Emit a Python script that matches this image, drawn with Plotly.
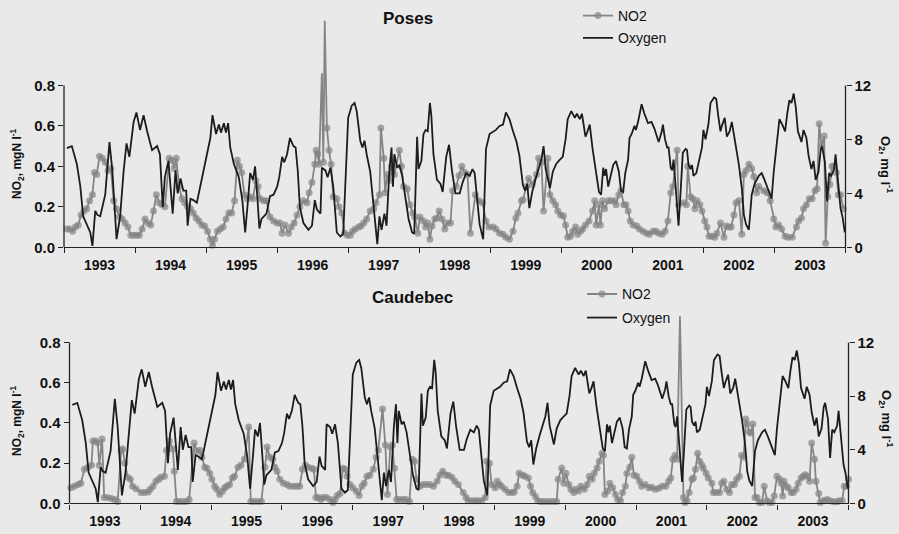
import plotly.graph_objects as go

# ---------------- data ----------------
years = [1993, 1994, 1995, 1996, 1997, 1998, 1999, 2000, 2001, 2002, 2003]

# dissolved oxygen (mg/l), same record shown in both panels
o2_dates = [
    1993.04, 1993.11, 1993.18, 1993.23, 1993.27, 1993.32, 1993.37, 1993.40, 1993.44, 1993.47,
    1993.51, 1993.58, 1993.64, 1993.68, 1993.74, 1993.79, 1993.84, 1993.88, 1993.92, 1993.98,
    1994.02, 1994.07, 1994.12, 1994.17, 1994.24, 1994.31, 1994.35, 1994.39, 1994.42, 1994.47,
    1994.50, 1994.53, 1994.57, 1994.60, 1994.64, 1994.68, 1994.72, 1994.74, 1994.78, 1994.82,
    1994.87, 1994.94, 1995.01, 1995.06, 1995.09, 1995.14, 1995.18, 1995.21, 1995.25, 1995.28,
    1995.31, 1995.34, 1995.39, 1995.46, 1995.51, 1995.55, 1995.59, 1995.62, 1995.66, 1995.69,
    1995.72, 1995.75, 1995.78, 1995.85, 1995.90, 1995.95, 1996.00, 1996.03, 1996.07, 1996.10,
    1996.14, 1996.18, 1996.23, 1996.26, 1996.29, 1996.32, 1996.37, 1996.44, 1996.49, 1996.53,
    1996.56, 1996.61, 1996.63, 1996.68, 1996.71, 1996.75, 1996.79, 1996.84, 1996.89, 1996.93,
    1996.97, 1997.00, 1997.05, 1997.09, 1997.12, 1997.17, 1997.20, 1997.23, 1997.26, 1997.31,
    1997.34, 1997.38, 1997.41, 1997.44, 1997.47, 1997.51, 1997.54, 1997.58, 1997.61, 1997.63,
    1997.65, 1997.69, 1997.72, 1997.76, 1997.80, 1997.85, 1997.90, 1997.93, 1997.97, 1997.99,
    1998.03, 1998.06, 1998.09, 1998.12, 1998.15, 1998.17, 1998.20, 1998.25, 1998.30, 1998.33,
    1998.38, 1998.42, 1998.46, 1998.51, 1998.57, 1998.61, 1998.66, 1998.71, 1998.75, 1998.78,
    1998.80, 1998.85, 1998.90, 1998.92, 1998.94, 1998.99, 1999.04, 1999.08, 1999.13, 1999.18,
    1999.22, 1999.27, 1999.32, 1999.37, 1999.41, 1999.46, 1999.49, 1999.52, 1999.55, 1999.59,
    1999.64, 1999.68, 1999.72, 1999.75, 1999.78, 1999.81, 1999.84, 1999.88, 1999.93, 1999.98,
    2000.02, 2000.06, 2000.09, 2000.14, 2000.19, 2000.22, 2000.26, 2000.29, 2000.34, 2000.37,
    2000.40, 2000.44, 2000.48, 2000.53, 2000.56, 2000.59, 2000.61, 2000.63, 2000.66, 2000.69,
    2000.73, 2000.77, 2000.81, 2000.84, 2000.87, 2000.90, 2000.94, 2000.96, 2000.99, 2001.03,
    2001.05, 2001.08, 2001.10, 2001.13, 2001.17, 2001.22, 2001.27, 2001.31, 2001.37, 2001.41,
    2001.43, 2001.46, 2001.49, 2001.51, 2001.54, 2001.56, 2001.58, 2001.61, 2001.63, 2001.65,
    2001.68, 2001.71, 2001.75, 2001.77, 2001.79, 2001.82, 2001.84, 2001.86, 2001.90, 2001.93,
    2001.98, 2002.00, 2002.03, 2002.07, 2002.10, 2002.15, 2002.18, 2002.21, 2002.24, 2002.26,
    2002.30, 2002.33, 2002.37, 2002.40, 2002.45, 2002.50, 2002.54, 2002.57, 2002.60, 2002.64,
    2002.68, 2002.72, 2002.78, 2002.82, 2002.86, 2002.92, 2002.96, 2002.99, 2003.04, 2003.07,
    2003.11, 2003.15, 2003.18, 2003.21, 2003.24, 2003.27, 2003.30, 2003.33, 2003.38, 2003.41,
    2003.45, 2003.48, 2003.52, 2003.55, 2003.58, 2003.62, 2003.65, 2003.67, 2003.71, 2003.74,
    2003.77, 2003.80, 2003.84, 2003.86, 2003.90, 2003.93, 2003.96, 2003.99,
]
o2_values = [
    7.35, 7.5, 6.2, 4.5, 2.3, 1.7, 1.1, 0.1, 2.7, 2.4,
    2.3, 3.9, 7.8, 5.7, 0.6, 2.3, 5.7, 7.7, 6.7, 9.3,
    10.0, 8.7, 9.8, 8.6, 7.2, 7.5, 6.9, 3.0, 5.2, 6.4,
    4.5, 2.5, 5.7, 4.0, 5.1, 4.2, 4.2, 1.6, 3.6, 3.5,
    3.3, 5.0, 6.9, 8.1, 9.8, 8.4, 9.1, 8.5, 9.2, 8.5,
    9.2, 7.4, 6.2, 5.2, 3.5, 1.1, 3.5, 5.5, 5.0, 6.0,
    3.8, 1.4, 2.1, 2.5, 3.8, 3.9, 4.5, 5.2, 6.7, 6.3,
    6.9, 8.1, 7.5, 7.4, 5.7, 3.0, 1.8, 1.3, 1.6, 3.5,
    2.8, 2.5, 5.9, 5.7, 5.2, 5.9, 4.5, 1.1, 0.8, 1.0,
    5.9, 9.6, 10.5, 10.7, 10.1, 7.9, 7.4, 7.9, 6.9, 5.6,
    4.0, 1.7, 0.24, 2.3, 1.3, 2.5, 1.6, 5.7, 7.4, 4.5,
    6.9, 5.9, 6.1, 5.3, 4.0, 2.1, 1.1, 1.0, 8.2, 5.8,
    6.4, 8.4, 8.7, 8.6, 10.7, 9.8, 6.9, 5.0, 4.7, 4.1,
    6.7, 7.6, 5.7, 4.0, 4.0, 4.8, 5.5, 5.3, 5.8, 5.5,
    4.4, 1.7, 0.6, 4.6, 7.3, 8.4, 8.6, 8.7, 9.0, 9.1,
    10.0, 9.5, 8.6, 7.8, 6.8, 4.6, 4.2, 4.7, 2.9, 4.1,
    5.1, 5.8, 6.5, 7.5, 5.8, 5.1, 4.4, 5.6, 6.2, 6.5,
    6.7, 8.0, 9.5, 10.1, 9.6, 9.9, 9.5, 9.9, 8.2, 8.6,
    9.1, 7.3, 5.8, 4.1, 3.9, 5.9, 5.3, 5.8, 4.5, 5.3,
    6.1, 6.4, 5.6, 4.2, 4.1, 5.5, 6.5, 8.1, 8.4, 9.0,
    8.7, 9.3, 9.9, 10.6, 9.9, 9.2, 9.3, 8.8, 7.8, 8.5,
    9.1, 8.0, 7.4, 7.4, 5.9, 5.7, 6.5, 4.6, 3.2, 1.6,
    4.2, 7.0, 7.3, 7.2, 6.1, 5.8, 6.1, 5.3, 5.5, 6.3,
    7.4, 8.7, 8.0, 9.1, 10.7, 11.1, 11.0, 9.7, 8.6, 9.0,
    9.6, 8.2, 8.6, 9.3, 7.8, 6.1, 4.4, 2.4, 1.7, 1.3,
    3.9, 4.7, 5.3, 5.5, 5.0, 4.1, 3.6, 5.6, 7.8, 9.5,
    9.1, 8.6, 9.9, 10.9, 10.7, 11.4, 10.4, 8.6, 7.8, 8.7,
    8.1, 6.8, 5.8, 6.4, 5.0, 5.6, 7.2, 7.5, 6.3, 3.4,
    5.5, 5.3, 5.8, 6.9, 4.6, 2.9, 2.2, 1.1,
]

# NO2 at Poses (mgN/l)
poses_dates = [
    1993.04, 1993.08, 1993.12, 1993.16, 1993.20, 1993.24, 1993.28, 1993.32, 1993.36, 1993.40,
    1993.43, 1993.46, 1993.50, 1993.54, 1993.58, 1993.62, 1993.66, 1993.70, 1993.74, 1993.78,
    1993.82, 1993.86, 1993.90, 1993.94, 1993.98, 1994.02, 1994.06, 1994.10, 1994.14, 1994.18,
    1994.22, 1994.26, 1994.30, 1994.34, 1994.38, 1994.42, 1994.48, 1994.52, 1994.55, 1994.58,
    1994.62, 1994.66, 1994.70, 1994.74, 1994.78, 1994.82, 1994.86, 1994.90, 1994.94, 1994.98,
    1995.02, 1995.06, 1995.09, 1995.12, 1995.16, 1995.20, 1995.24, 1995.28, 1995.32, 1995.36,
    1995.40, 1995.44, 1995.47, 1995.50, 1995.54, 1995.58, 1995.62, 1995.66, 1995.70, 1995.73,
    1995.76, 1995.81, 1995.85, 1995.90, 1995.95, 1996.00, 1996.04, 1996.07, 1996.11, 1996.16,
    1996.20, 1996.24, 1996.28, 1996.32, 1996.37, 1996.42, 1996.45, 1996.49, 1996.53, 1996.55,
    1996.57, 1996.59, 1996.63, 1996.65, 1996.67, 1996.70, 1996.73, 1996.76, 1996.79, 1996.84,
    1996.87, 1996.91, 1996.95, 1996.99, 1997.03, 1997.06, 1997.10, 1997.15, 1997.18, 1997.22,
    1997.26, 1997.31, 1997.36, 1997.39, 1997.44, 1997.46, 1997.50, 1997.52, 1997.55, 1997.58,
    1997.61, 1997.65, 1997.72, 1997.75, 1997.78, 1997.83, 1997.87, 1997.91, 1997.94, 1997.98,
    1998.01, 1998.06, 1998.09, 1998.12, 1998.15, 1998.18, 1998.22, 1998.25, 1998.28, 1998.32,
    1998.36, 1998.39, 1998.44, 1998.47, 1998.52, 1998.56, 1998.60, 1998.64, 1998.68, 1998.72,
    1998.79, 1998.84, 1998.89, 1998.94, 1998.98, 1999.04, 1999.08, 1999.13, 1999.18, 1999.22,
    1999.27, 1999.32, 1999.36, 1999.39, 1999.44, 1999.46, 1999.51, 1999.54, 1999.59, 1999.65,
    1999.68, 1999.72, 1999.75, 1999.81, 1999.84, 1999.88, 1999.92, 1999.95, 1999.99, 2000.03,
    2000.06, 2000.09, 2000.13, 2000.16, 2000.20, 2000.23, 2000.27, 2000.30, 2000.34, 2000.39,
    2000.44, 2000.47, 2000.49, 2000.53, 2000.55, 2000.58, 2000.61, 2000.66, 2000.70, 2000.75,
    2000.77, 2000.81, 2000.84, 2000.88, 2000.91, 2000.94, 2000.97, 2001.01, 2001.06, 2001.10,
    2001.15, 2001.20, 2001.24, 2001.29, 2001.33, 2001.37, 2001.42, 2001.46, 2001.50, 2001.54,
    2001.57, 2001.63, 2001.65, 2001.72, 2001.76, 2001.78, 2001.82, 2001.85, 2001.88, 2001.91,
    2001.95, 2001.98, 2002.02, 2002.05, 2002.08, 2002.12, 2002.16, 2002.19, 2002.24, 2002.29,
    2002.32, 2002.36, 2002.39, 2002.43, 2002.46, 2002.50, 2002.54, 2002.57, 2002.60, 2002.64,
    2002.68, 2002.71, 2002.75, 2002.78, 2002.85, 2002.90, 2002.94, 2002.99, 2003.02, 2003.06,
    2003.10, 2003.15, 2003.19, 2003.25, 2003.31, 2003.34, 2003.38, 2003.41, 2003.45, 2003.49,
    2003.53, 2003.57, 2003.60, 2003.63, 2003.66, 2003.70, 2003.72, 2003.75, 2003.78, 2003.81,
    2003.84, 2003.87, 2003.90, 2003.93, 2003.97,
]
poses_no2 = [
    0.09, 0.09, 0.08, 0.10, 0.11, 0.16, 0.18, 0.19, 0.23, 0.26,
    0.37, 0.36, 0.45, 0.44, 0.42, 0.38, 0.39, 0.23, 0.19, 0.15,
    0.14, 0.12, 0.10, 0.06, 0.06, 0.06, 0.06, 0.09, 0.14, 0.12,
    0.11, 0.18, 0.26, 0.22, 0.21, 0.20, 0.44, 0.43, 0.39, 0.44,
    0.30, 0.24, 0.22, 0.20, 0.19, 0.17, 0.145, 0.13, 0.11, 0.105,
    0.08, 0.04, 0.01, 0.04, 0.08, 0.09, 0.10, 0.14, 0.17, 0.17,
    0.23, 0.43, 0.40, 0.37, 0.26, 0.24, 0.25, 0.24, 0.33, 0.30,
    0.24, 0.23, 0.23, 0.15, 0.13, 0.12, 0.12, 0.07, 0.11, 0.07,
    0.10, 0.12, 0.16, 0.20, 0.23, 0.22, 0.27, 0.32, 0.41, 0.48,
    0.46, 0.41, 0.86, 0.42, 1.12, 0.59, 0.48, 0.41, 0.25, 0.24,
    0.20, 0.17, 0.07, 0.06, 0.06, 0.08, 0.09, 0.10, 0.105, 0.12,
    0.14, 0.18, 0.19, 0.22, 0.26, 0.59, 0.44, 0.27, 0.36, 0.33,
    0.40, 0.36, 0.48, 0.40, 0.30, 0.29, 0.21, 0.17, 0.15, 0.07,
    0.15, 0.13, 0.10, 0.12, 0.04, 0.105, 0.14, 0.145, 0.18, 0.14,
    0.09, 0.12, 0.12, 0.28, 0.30, 0.355, 0.40, 0.37, 0.36, 0.07,
    0.26, 0.23, 0.22, 0.13, 0.10, 0.10, 0.09, 0.07, 0.065, 0.05,
    0.04, 0.08, 0.145, 0.17, 0.23, 0.235, 0.30, 0.34, 0.31, 0.36,
    0.44, 0.42, 0.18, 0.44, 0.26, 0.23, 0.21, 0.18, 0.16, 0.155,
    0.11, 0.05, 0.055, 0.08, 0.10, 0.065, 0.08, 0.09, 0.11, 0.13,
    0.18, 0.23, 0.11, 0.21, 0.11, 0.23, 0.19, 0.23, 0.23, 0.23,
    0.21, 0.26, 0.28, 0.21, 0.21, 0.18, 0.13, 0.11, 0.105, 0.09,
    0.08, 0.07, 0.065, 0.08, 0.08, 0.07, 0.065, 0.08, 0.13, 0.27,
    0.30, 0.48, 0.21, 0.22, 0.21, 0.40, 0.25, 0.24, 0.19, 0.23,
    0.21, 0.18, 0.13, 0.10, 0.055, 0.055, 0.05, 0.07, 0.12, 0.05,
    0.105, 0.10, 0.10, 0.16, 0.22, 0.23, 0.065, 0.36, 0.38, 0.41,
    0.39, 0.35, 0.27, 0.30, 0.28, 0.27, 0.23, 0.14, 0.10, 0.11,
    0.09, 0.055, 0.05, 0.05, 0.10, 0.13, 0.145, 0.19, 0.21, 0.24,
    0.24, 0.28, 0.29, 0.61, 0.50, 0.55, 0.02, 0.25, 0.31, 0.40,
    0.40, 0.37, 0.26, 0.26, 0.19,
]

# NO2 at Caudebec (mgN/l)
caudebec_dates = [
    1993.02, 1993.07, 1993.12, 1993.16, 1993.21, 1993.26, 1993.31, 1993.33, 1993.37, 1993.40,
    1993.42, 1993.46, 1993.49, 1993.54, 1993.59, 1993.64, 1993.68, 1993.73, 1993.75, 1993.78,
    1993.82, 1993.86, 1993.89, 1993.94, 1994.01, 1994.06, 1994.11, 1994.14, 1994.18, 1994.22,
    1994.26, 1994.29, 1994.34, 1994.37, 1994.41, 1994.46, 1994.48, 1994.51, 1994.55, 1994.60,
    1994.65, 1994.69, 1994.76, 1994.80, 1994.84, 1994.87, 1994.91, 1994.94, 1994.98, 1995.01,
    1995.05, 1995.08, 1995.12, 1995.16, 1995.19, 1995.22, 1995.26, 1995.30, 1995.33, 1995.38,
    1995.42, 1995.47, 1995.53, 1995.56, 1995.61, 1995.66, 1995.71, 1995.76, 1995.79, 1995.83,
    1995.87, 1995.90, 1995.93, 1995.97, 1996.02, 1996.07, 1996.11, 1996.16, 1996.21, 1996.25,
    1996.29, 1996.33, 1996.37, 1996.42, 1996.45, 1996.48, 1996.51, 1996.55, 1996.58, 1996.63,
    1996.68, 1996.72, 1996.75, 1996.78, 1996.82, 1996.86, 1996.89, 1996.92, 1996.96, 1997.00,
    1997.05, 1997.09, 1997.13, 1997.16, 1997.20, 1997.24, 1997.29, 1997.33, 1997.36, 1997.42,
    1997.46, 1997.49, 1997.53, 1997.56, 1997.59, 1997.62, 1997.66, 1997.71, 1997.75, 1997.80,
    1997.84, 1997.87, 1997.90, 1997.95, 1997.99, 1998.04, 1998.09, 1998.14, 1998.19, 1998.23,
    1998.27, 1998.32, 1998.35, 1998.40, 1998.44, 1998.49, 1998.56, 1998.60, 1998.63, 1998.68,
    1998.73, 1998.77, 1998.82, 1998.87, 1998.89, 1998.93, 1998.96, 1999.01, 1999.04, 1999.07,
    1999.10, 1999.15, 1999.20, 1999.25, 1999.28, 1999.32, 1999.35, 1999.40, 1999.43, 1999.48,
    1999.51, 1999.54, 1999.58, 1999.61, 1999.65, 1999.69, 1999.74, 1999.79, 1999.84, 1999.88,
    1999.90, 1999.95, 1999.98, 2000.01, 2000.05, 2000.08, 2000.12, 2000.15, 2000.19, 2000.22,
    2000.27, 2000.31, 2000.34, 2000.38, 2000.41, 2000.45, 2000.48, 2000.52, 2000.54, 2000.56,
    2000.60, 2000.63, 2000.67, 2000.71, 2000.74, 2000.78, 2000.81, 2000.85, 2000.87, 2000.91,
    2000.94, 2000.97, 2001.01, 2001.05, 2001.08, 2001.13, 2001.18, 2001.22, 2001.27, 2001.32,
    2001.37, 2001.42, 2001.46, 2001.49, 2001.52, 2001.55, 2001.58, 2001.62, 2001.67, 2001.69,
    2001.72, 2001.75, 2001.79, 2001.81, 2001.84, 2001.87, 2001.90, 2001.93, 2001.95, 2001.99,
    2002.02, 2002.07, 2002.09, 2002.13, 2002.18, 2002.21, 2002.24, 2002.28, 2002.32, 2002.35,
    2002.39, 2002.42, 2002.46, 2002.49, 2002.52, 2002.55, 2002.57, 2002.60, 2002.62, 2002.65,
    2002.68, 2002.71, 2002.74, 2002.78, 2002.81, 2002.85, 2002.88, 2002.92, 2002.95, 2002.99,
    2003.03, 2003.05, 2003.07, 2003.09, 2003.12, 2003.15, 2003.19, 2003.22, 2003.26, 2003.29,
    2003.33, 2003.36, 2003.39, 2003.42, 2003.45, 2003.48, 2003.52, 2003.54, 2003.58, 2003.60,
    2003.64, 2003.67, 2003.70, 2003.74, 2003.79, 2003.84, 2003.87, 2003.91, 2003.94, 2003.97,
    2004.00,
]
caudebec_no2 = [
    0.078, 0.086, 0.094, 0.10, 0.17, 0.18, 0.19, 0.31, 0.31, 0.30,
    0.19, 0.32, 0.03, 0.03, 0.025, 0.02, 0.01, 0.265, 0.27, 0.20,
    0.13, 0.12, 0.086, 0.073, 0.054, 0.054, 0.057, 0.07, 0.086, 0.11,
    0.12, 0.13, 0.135, 0.265, 0.31, 0.27, 0.16, 0.01, 0.01, 0.01,
    0.01, 0.02, 0.30, 0.26, 0.265, 0.23, 0.18, 0.175, 0.15, 0.12,
    0.086, 0.07, 0.045, 0.06, 0.078, 0.086, 0.094, 0.127, 0.135, 0.18,
    0.19, 0.22, 0.38, 0.01, 0.01, 0.01, 0.01, 0.18, 0.28, 0.23,
    0.22, 0.18, 0.16, 0.12, 0.10, 0.094, 0.086, 0.086, 0.086, 0.086,
    0.17, 0.19, 0.18, 0.175, 0.17, 0.03, 0.03, 0.02, 0.03, 0.03,
    0.02, 0.005, 0.02, 0.04, 0.05, 0.175, 0.17, 0.135, 0.094, 0.078,
    0.06, 0.04, 0.086, 0.10, 0.135, 0.14, 0.17, 0.23, 0.265, 0.47,
    0.29, 0.045, 0.28, 0.29, 0.175, 0.02, 0.02, 0.02, 0.02, 0.01,
    0.22, 0.21, 0.12, 0.086, 0.094, 0.094, 0.094, 0.086, 0.11, 0.14,
    0.16, 0.14, 0.14, 0.13, 0.11, 0.094, 0.054, 0.03, 0.013, 0.013,
    0.013, 0.013, 0.013, 0.03, 0.21, 0.20, 0.094, 0.078, 0.11, 0.094,
    0.086, 0.07, 0.054, 0.054, 0.057, 0.086, 0.15, 0.14, 0.135, 0.127,
    0.086, 0.054, 0.034, 0.013, 0.01, 0.01, 0.01, 0.01, 0.01, 0.01,
    0.12, 0.176, 0.10, 0.15, 0.094, 0.07, 0.054, 0.07, 0.062, 0.086,
    0.07, 0.094, 0.135, 0.12, 0.15, 0.176, 0.21, 0.25, 0.24, 0.045,
    0.062, 0.10, 0.078, 0.045, 0.02, 0.013, 0.054, 0.086, 0.15, 0.18,
    0.23, 0.14, 0.135, 0.11, 0.086, 0.094, 0.078, 0.08, 0.07, 0.075,
    0.086, 0.086, 0.11, 0.127, 0.22, 0.24, 0.22, 0.93, 0.03, 0.005,
    0.013, 0.054, 0.12, 0.127, 0.17, 0.25, 0.21, 0.19, 0.175, 0.15,
    0.127, 0.10, 0.054, 0.054, 0.054, 0.10, 0.11, 0.07, 0.054, 0.094,
    0.094, 0.12, 0.135, 0.24, 0.23, 0.42, 0.395, 0.355, 0.35, 0.395,
    0.03, 0.03, 0.005, 0.005, 0.086, 0.013, 0.005, 0.005, 0.037, 0.135,
    0.12, 0.10, 0.037, 0.11, 0.086, 0.078, 0.054, 0.054, 0.07, 0.10,
    0.127, 0.135, 0.143, 0.135, 0.11, 0.30, 0.22, 0.11, 0.05, 0.005,
    0.013, 0.013, 0.02, 0.013, 0.008, 0.008, 0.013, 0.013, 0.086, 0.086,
    0.12,
]

# ---------------- styling ----------------
W, H = 899, 534
BG = "#e9e9e9"
AX = "#222222"
GREY = "#858585"
DARK = "#1c1c1c"
FONT = "Liberation Sans, Arial, Helvetica, sans-serif"

NO2_MAX, O2_MAX = 0.8, 12          # labelled axis extent
RATIO = O2_MAX / NO2_MAX

panels = [
    dict(name="Poses", d=poses_dates, v=poses_no2, x0=64, x1=845.5, y0=250, k=206.25, top=1.16,
         xa="x", ya="y", ya2="y2", title_y=17, leg_x=578, leg_y=(14, 37),
         ytitle_y=165, o2title_y=165),
    dict(name="Caudebec", d=caudebec_dates, v=caudebec_no2, x0=69.5, x1=848.5, y0=511, k=205.0, top=0.96,
         xa="x2", ya="y3", ya2="y4", title_y=301, leg_x=582, leg_y=(298, 322),
         ytitle_y=427, o2title_y=424),
]

fig = go.Figure()
layout = dict(
    width=W, height=H, margin=dict(l=0, r=0, t=0, b=0),
    paper_bgcolor=BG, plot_bgcolor="rgba(0,0,0,0)",
    font=dict(family=FONT, color="#111"), showlegend=True,
)
shapes, annotations = [], []


def px_x(p):
    return p / W


def px_y(p):
    return 1 - p / H


def label(text, x, y, size, angle=0):
    return dict(text=text, x=px_x(x), y=px_y(y), xref="paper", yref="paper",
                xanchor="center", yanchor="middle", textangle=angle, showarrow=False,
                font=dict(size=size, family=FONT, color="#111"))


for i, p in enumerate(panels):
    xa, ya, ya2 = p["xa"], p["ya"], p["ya2"]
    xkey = "xaxis" if xa == "x" else "xaxis" + xa[1:]
    ykey = "yaxis" if ya == "y" else "yaxis" + ya[1:]
    y2key = "yaxis" + ya2[1:]
    leg_a = "legend" if i == 0 else "legend3"
    leg_b = "legend2" if i == 0 else "legend4"

    # points above the labelled range are drawn as bare line spikes
    sizes = [7 if v <= NO2_MAX else 0 for v in p["v"]]
    fig.add_trace(go.Scatter(
        x=p["d"], y=p["v"], name="NO2", mode="lines+markers",
        line=dict(color=GREY, width=1.8),
        marker=dict(color=GREY, size=sizes, line=dict(width=0)),
        xaxis=xa, yaxis=ya, legend=leg_a, cliponaxis=False,
    ))
    fig.add_trace(go.Scatter(
        x=o2_dates, y=o2_values, name="Oxygen", mode="lines",
        line=dict(color=DARK, width=1.8),
        xaxis=xa, yaxis=ya2, legend=leg_b,
    ))

    ytop_px = p["y0"] - p["top"] * p["k"]
    xdom = [px_x(p["x0"]), px_x(p["x1"])]
    ydom = [px_y(p["y0"]), px_y(ytop_px)]

    layout[xkey] = dict(
        domain=xdom, anchor=ya, range=[1993, 2004],
        showline=True, linecolor=AX, linewidth=1.3, showgrid=False, zeroline=False,
        tickvals=[y + 0.5 for y in years], ticktext=[f"<b>{y}</b>" for y in years],
        ticks="outside", ticklen=5, tickcolor=BG,
        tickfont=dict(size=14, family=FONT, color="#111"),
        minor=dict(ticks="outside", tick0=1993, dtick=1, ticklen=5, tickwidth=1.3,
                   tickcolor=AX, showgrid=False),
    )
    layout[ykey] = dict(
        domain=ydom, anchor=xa, range=[0, p["top"]],
        showline=False, showgrid=False, zeroline=False,
        tickvals=[0, 0.2, 0.4, 0.6, 0.8],
        ticktext=["<b>0.0</b>", "<b>0.2</b>", "<b>0.4</b>", "<b>0.6</b>", "<b>0.8</b>"],
        ticks="outside", ticklen=5, tickwidth=1.3, tickcolor=AX,
        tickfont=dict(size=15, family=FONT, color="#111"),
    )
    layout[y2key] = dict(
        overlaying=ya, side="right", anchor=xa, range=[0, p["top"] * RATIO],
        showline=False, showgrid=False, zeroline=False,
        tickvals=[0, 4, 8, 12], ticktext=["<b>0</b>", "<b>4</b>", "<b>8</b>", "<b>12</b>"],
        ticks="outside", ticklen=5, tickwidth=1.3, tickcolor=AX,
        tickfont=dict(size=15, family=FONT, color="#111"),
    )

    # axis spines limited to the labelled extent
    shapes.append(dict(type="line", xref=f"{xa} domain", yref=ya, x0=0, x1=0, y0=0, y1=NO2_MAX,
                       line=dict(color=AX, width=1.3)))
    shapes.append(dict(type="line", xref=f"{xa} domain", yref=ya2, x0=1, x1=1, y0=0, y1=O2_MAX,
                       line=dict(color=AX, width=1.3)))

    annotations.append(label(f"<b>{p['name']}</b>", 408 if i == 0 else 412, p["title_y"], 17))
    annotations.append(label("<b>NO<sub>2</sub>, mgN l<sup>-1</sup></b>", 17, p["ytitle_y"], 12, -90))
    annotations.append(label("<b>O<sub>2</sub>, mg l<sup>-1</sup></b>", 886, p["o2title_y"], 13, 90))

    for key, yy in ((leg_a, p["leg_y"][0]), (leg_b, p["leg_y"][1])):
        layout[key] = dict(x=px_x(p["leg_x"]), y=px_y(yy), xanchor="left", yanchor="middle",
                           bgcolor="rgba(0,0,0,0)", borderwidth=0,
                           font=dict(size=14, family=FONT, color="#111"), itemwidth=30)

layout["shapes"] = shapes
layout["annotations"] = annotations
fig.update_layout(**layout)
fig.write_html("out.html")
